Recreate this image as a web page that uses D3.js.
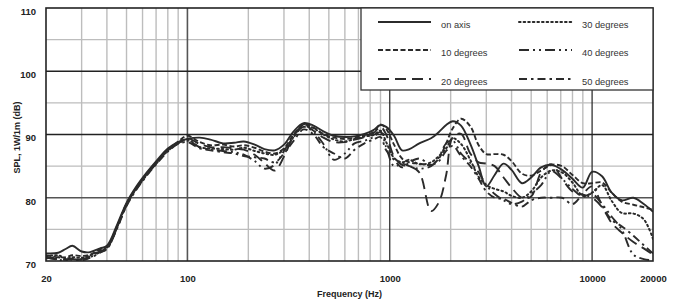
<!DOCTYPE html>
<html>
<head>
<meta charset="utf-8">
<script src="https://cdn.jsdelivr.net/npm/d3@7"></script>
<style>
  body { margin: 0; background: #fff; }
  svg { display: block; font-family: "Liberation Sans", Arial, sans-serif; }
</style>
</head>
<body>
<div id="chart"></div>
<script>
// frequencies (Hz) shared by all curves
var freqs = [20,23,25,27,30,33,37,40,45,50,56,63,71,80,90,100,115,130,150,170,190,215,240,270,300,335,375,420,470,530,600,670,750,830,900,960,1050,1150,1250,1400,1600,1750,1900,2050,2250,2500,2750,3000,3300,3650,4000,4500,5000,5600,6300,7100,8000,9000,10000,11200,12500,14000,16000,18000,20000];

var onAxis = [71.2,71.3,71.9,72.4,71.5, 71.4,72.0,72.4,75.8,79.2, 81.8,84.0,86.0,87.8,88.8, 89.3,89.5,89.2,88.6,88.7, 88.9,88.4,87.7,87.5,88.4, 90.5,91.8,91.4,90.5,89.8, 89.6,89.7,90.1,90.7,91.5, 91.2,89.8,87.5,87.7,88.6, 89.4,90.4,91.5,92.1,91.4, 88.5,85.0,81.8,83.6,85.4, 84.4,82.3,83.2,84.8,85.2, 84.4,83.0,81.6,84.1,83.4, 80.8,79.6,80.0,79.0,77.8];
var deg10 = [70.9,70.6,70.6,70.9,70.8, 71.0,71.8,72.2,75.6,79.0, 81.6,83.8,85.8,87.6,88.9, 89.8,88.8,88.3,88.4,88.1, 88.3,87.9,87.3,87.0,87.8, 90.0,91.5,91.1,90.1,89.5, 89.3,89.5,89.9,90.4,91.6, 90.9,88.4,86.2,85.6,85.4, 85.2,86.2,88.6,91.0,92.5, 91.3,88.3,86.9,86.9,86.8, 85.8,83.8,83.5,84.3,85.2, 85.0,83.6,82.3,82.3,82.4, 80.8,79.4,78.9,78.5,78.1];
var deg20 = [70.5,70.3,70.2,70.4,70.3, 70.7,71.5,72.0,75.4,78.9, 81.5,83.7,85.7,87.5,88.6, 89.4,88.5,88.0,88.0,87.8, 87.6,86.8,85.5,84.3,86.5, 89.8,91.4,90.6,89.5,88.8, 88.8,89.2,89.6,90.2,91.2, 90.0,86.5,85.2,85.0,84.0, 77.9,79.3,83.6,89.6,90.1, 87.0,85.6,85.4,85.0,83.2, 81.6,80.0,80.2,84.0,85.3, 83.0,81.0,80.5,80.0,78.5, 76.0,74.5,73.0,72.0,71.0];
var deg30 = [70.7,70.9,70.4,70.6,70.5, 70.9,71.6,72.1,75.5,79.0, 81.6,83.8,85.7,87.5,88.7, 89.2,88.0,87.8,87.7,87.6, 87.9,87.4,87.0,86.8,87.6, 89.6,91.6,91.0,90.0,89.2, 88.9,89.3,89.7,89.9,90.6, 88.8,86.3,85.6,86.0,85.3, 85.6,86.6,87.8,89.4,88.5, 86.0,83.3,82.0,81.4,81.0, 80.3,80.0,81.0,83.2,84.3, 84.0,82.4,80.3,80.8,82.0, 79.5,77.6,77.5,76.6,73.5];
var deg40 = [70.6,70.2,70.1,70.3,70.2, 70.6,71.4,71.9,75.3,78.8, 81.4,83.6,85.6,87.4,88.6, 89.0,88.0,87.6,87.4,87.2, 86.8,85.8,84.6,85.2,87.4, 89.6,91.2,90.4,88.5,86.0, 87.0,88.6,89.0,89.6,90.4, 88.0,85.0,85.4,85.0,84.6, 85.0,86.4,88.6,89.0,87.0, 85.5,84.0,82.0,80.6,79.6, 79.0,79.4,80.6,82.0,84.2, 83.0,81.4,80.2,80.6,79.0, 77.0,75.0,71.0,70.3,70.1];
var deg50 = [70.4,70.6,70.3,70.2,70.1, 70.5,71.3,71.9,75.2,78.7, 81.3,83.5,85.5,87.3,88.5, 88.8,87.8,87.5,87.2,87.0, 86.6,86.4,86.2,85.6,87.0, 89.0,90.8,90.0,88.0,87.0, 86.2,87.6,88.6,89.2,89.6, 87.5,86.0,84.8,85.6,86.2, 85.2,85.8,87.4,88.2,86.6, 85.0,83.0,81.0,80.0,79.8, 79.2,78.6,79.6,80.0,80.0, 80.0,79.0,80.6,81.8,78.8, 76.5,75.5,74.0,72.5,71.2];

var seriesNames = ["on axis", "10 degrees", "20 degrees", "30 degrees", "40 degrees", "50 degrees"];
var seriesValues = [onAxis, deg10, deg20, deg30, deg40, deg50];
var dashes = ["none", "5,2.5", "11,6", "1.6,3", "10,4,2,4,2,4", "8,4,2.5,4"];

var xTicks = [20, 100, 1000, 10000, 20000];
var yTicks = [70, 80, 90, 100, 110];
var yMinor = [75, 85, 95, 105];
var yMajor = [80, 90, 100];

function main(){
    var width = 678, height = 300;
    var pLeft = 46, pRight = 653, pTop = 8, pBottom = 261;

    var svg = d3.select("#chart").append("svg")
        .attr("width", width)
        .attr("height", height);

    var x = d3.scaleLog().domain([20, 20000]).range([pLeft, pRight]);
    var y = d3.scaleLinear().domain([70, 110]).range([pBottom, pTop]);

    // vertical grid
    var majorX = [100, 1000, 10000];
    var minorX = [];
    [10, 100, 1000, 10000].forEach(function(dec) {
        for (var n = 2; n <= 9; n++) {
            var f = n * dec;
            if (f > 20 && f < 20000) minorX.push(f);
        }
    });

    svg.append("g").selectAll("line")
        .data(minorX)
        .enter().append("line")
        .attr("x1", function(d){ return x(d); })
        .attr("x2", function(d){ return x(d); })
        .attr("y1", pTop).attr("y2", pBottom)
        .attr("stroke", "#bdbdbd").attr("stroke-width", 1.4);

    svg.append("g").selectAll("line")
        .data(yMinor)
        .enter().append("line")
        .attr("x1", pLeft).attr("x2", pRight)
        .attr("y1", function(d){ return y(d); })
        .attr("y2", function(d){ return y(d); })
        .attr("stroke", "#bdbdbd").attr("stroke-width", 1.4);

    svg.append("g").selectAll("line")
        .data(majorX)
        .enter().append("line")
        .attr("x1", function(d){ return x(d); })
        .attr("x2", function(d){ return x(d); })
        .attr("y1", pTop).attr("y2", pBottom)
        .attr("stroke", function(d){ return d == 100 ? "#555" : "#222"; })
        .attr("stroke-width", function(d){ return d == 100 ? 1.6 : 1.2; });

    svg.append("g").selectAll("line")
        .data(yMajor)
        .enter().append("line")
        .attr("x1", pLeft).attr("x2", pRight)
        .attr("y1", function(d){ return y(d); })
        .attr("y2", function(d){ return y(d); })
        .attr("stroke", function(d){ return d == 80 ? "#555" : "#222"; })
        .attr("stroke-width", 1.3);

    // curves
    svg.append("clipPath").attr("id", "plotclip")
        .append("rect")
        .attr("x", pLeft).attr("y", pTop)
        .attr("width", pRight - pLeft).attr("height", pBottom - pTop);

    var line = d3.line()
        .x(function(d){ return x(d[0]); })
        .y(function(d){ return y(d[1]); })
        .curve(d3.curveCatmullRom.alpha(0.5));

    var curves = svg.append("g").attr("clip-path", "url(#plotclip)");
    seriesValues.forEach(function(vals, i) {
        var pts = freqs.map(function(f, k){ return [f, vals[k]]; });
        curves.append("path")
            .datum(pts)
            .attr("d", line)
            .attr("fill", "none")
            .attr("stroke", "#2b2b2b")
            .attr("stroke-width", i == 3 ? 2.0 : 1.9)
            .attr("stroke-linecap", i == 3 ? "round" : "butt")
            .attr("stroke-dasharray", dashes[i]);
    });

    // frame
    svg.append("rect")
        .attr("x", pLeft).attr("y", pTop)
        .attr("width", pRight - pLeft).attr("height", pBottom - pTop)
        .attr("fill", "none")
        .attr("stroke", "#222").attr("stroke-width", 1.6);

    // axes
    var xAxis = svg.append("g")
        .attr("transform", "translate(0," + pBottom + ")")
        .call(d3.axisBottom(x).tickValues(xTicks).tickFormat(d3.format("d")).tickSize(0).tickPadding(0));
    xAxis.select(".domain").remove();
    xAxis.selectAll("text")
        .attr("y", 18).attr("dy", "0.35em")
        .attr("font-size", "9.5px").attr("font-weight", "bold")
        .attr("font-family", "Liberation Sans, Arial, sans-serif")
        .attr("fill", "#222");

    var yAxis = svg.append("g")
        .attr("transform", "translate(" + pLeft + ",0)")
        .call(d3.axisLeft(y).tickValues(yTicks).tickSize(0).tickPadding(10));
    yAxis.select(".domain").remove();
    yAxis.selectAll("text")
        .attr("dy", "0.35em")
        .attr("y", 3)
        .attr("font-size", "9.5px").attr("font-weight", "bold")
        .attr("font-family", "Liberation Sans, Arial, sans-serif")
        .attr("fill", "#222");

    svg.append("text")
        .attr("x", (pLeft + pRight) / 2).attr("y", 294)
        .attr("dy", "0.35em")
        .attr("text-anchor", "middle")
        .attr("font-size", "9px").attr("font-weight", "bold")
        .attr("fill", "#222")
        .text("Frequency (Hz)");

    svg.append("text")
        .attr("transform", "translate(17," + ((pTop + pBottom) / 2 + 3) + ") rotate(-90)")
        .attr("dy", "0.35em")
        .attr("text-anchor", "middle")
        .attr("font-size", "9px").attr("font-weight", "bold")
        .attr("fill", "#222")
        .text("SPL, 1W/1m (dB)");

    // legend
    var legend = svg.append("g");
    legend.append("rect")
        .attr("x", 361).attr("y", pTop)
        .attr("width", pRight - 361).attr("height", 90 - pTop)
        .attr("fill", "#fff")
        .attr("stroke", "#333").attr("stroke-width", 1.3);

    var rowsY = [22, 50, 79];
    var colX = [378, 519];
    seriesNames.forEach(function(name, i) {
        var col = Math.floor(i / 3), row = i % 3;
        var lx = colX[col], ly = rowsY[row];
        legend.append("line")
            .attr("x1", lx).attr("x2", lx + 53)
            .attr("y1", ly).attr("y2", ly)
            .attr("stroke", "#2b2b2b")
            .attr("stroke-width", 2)
            .attr("stroke-linecap", i == 3 ? "round" : "butt")
            .attr("stroke-dasharray", dashes[i]);
        legend.append("text")
            .attr("x", lx + 63).attr("y", ly + 3)
            .attr("dy", "0.35em")
            .attr("font-size", "9.3px")
            .attr("fill", "#333")
            .text(name);
    });
}
main();
</script>
</body>
</html>
